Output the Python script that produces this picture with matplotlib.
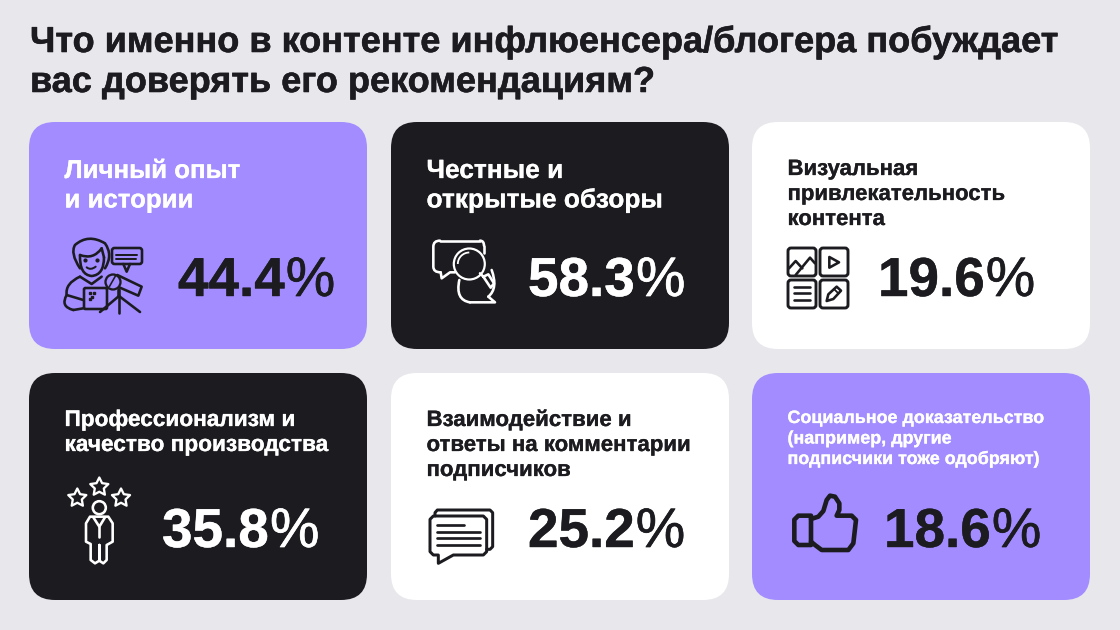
import numpy as np
import matplotlib
matplotlib.use("Agg")
import matplotlib.pyplot as plt
import matplotlib.patheffects as pe
from matplotlib.patches import FancyBboxPatch, Circle, Arc, Polygon
from matplotlib.path import Path
from matplotlib.patches import PathPatch

# данные
title_lines = ["Что именно в контенте инфлюенсера/блогера побуждает",
               "вас доверять его рекомендациям?"]
labels = [
    ["Личный опыт", "и истории"],
    ["Честные и", "открытые обзоры"],
    ["Визуальная", "привлекательность", "контента"],
    ["Профессионализм и", "качество производства"],
    ["Взаимодействие и", "ответы на комментарии", "подписчиков"],
    ["Социальное доказательство", "(например, другие", "подписчики тоже одобряют)"],
]
values = [44.4, 58.3, 19.6, 35.8, 25.2, 18.6]

BG = "#E8E7EC"
PURPLE = "#A28CFF"
DARK = "#1C1B20"
WHITE = "#FFFFFF"

FONT = "Liberation Sans"

# x, y, фон, цвет текста, размер подписи, первая базовая линия, шаг, x числа, база числа
cards = [
    (29, 122, PURPLE, WHITE, 18.6, 178, 29.5, 178, 296),
    (391, 122, DARK, WHITE, 18.95, 178, 29.5, 528, 296),
    (752, 122, WHITE, DARK, 15.95, 175, 25, 878, 296),
    (29, 373, DARK, WHITE, 16.3, 426, 25, 162, 547),
    (391, 373, WHITE, DARK, 16.0, 426, 25, 528, 547),
    (752, 373, PURPLE, WHITE, 12.9, 423, 20.5, 884, 547),
]
CARD_W, CARD_H, RAD = 338, 227, 26

fig = plt.figure(figsize=(11.2, 6.3), dpi=100, facecolor=BG)
ax = fig.add_axes([0, 0, 1, 1])
ax.set_xlim(0, 1120)
ax.set_ylim(630, 0)
ax.axis("off")


def put_text(x, y, s, size, color, stroke=0.2, weight="normal"):
    t = ax.text(x, y, s, fontsize=size, color=color, family=FONT, weight=weight,
                ha="left", va="baseline")
    t.set_path_effects([pe.withStroke(linewidth=stroke, foreground=color)])
    return t


def z(pts, x0, y0):
    return [(x0 + p[0] / 3, y0 + p[1] / 3) for p in pts]


def line(pts, color, lw=2.6, closed=False, fill="none"):
    if closed:
        ax.add_patch(Polygon(pts, closed=True, fc=fill, ec=color, lw=lw * 0.72, joinstyle="round"))
    else:
        xs, ys = zip(*pts)
        ax.plot(xs, ys, color=color, lw=lw * 0.72, solid_capstyle="round", solid_joinstyle="round")


def rbox(x1, y1, x2, y2, r, color, lw=2.6, fill="none"):
    ax.add_patch(FancyBboxPatch((x1 + r, y1 + r), x2 - x1 - 2 * r, y2 - y1 - 2 * r,
                                boxstyle=f"round,pad={r},rounding_size={r}",
                                fc=fill, ec=color, lw=lw * 0.72))


def circle(x, y, r, color, lw=2.6, fill="none"):
    ax.add_patch(Circle((x, y), r, fc=fill, ec=color, lw=lw * 0.72))


def star(cx, cy, r, color, lw=2.3):
    ang = np.deg2rad(np.arange(0, 360, 36) - 90)
    rr = np.where(np.arange(10) % 2 == 0, r, r * 0.5)
    line(list(zip(cx + rr * np.cos(ang), cy + rr * np.sin(ang))), color, lw, closed=True)


def curve(pts, color, lw=2.6):
    # сглаженный контур через квадратичные сегменты
    verts = [pts[0]]
    codes = [Path.MOVETO]
    for i in range(1, len(pts) - 1, 2):
        verts += [pts[i], pts[i + 1]]
        codes += [Path.CURVE3, Path.CURVE3]
    ax.add_patch(PathPatch(Path(verts, codes), fc="none", ec=color, lw=lw * 0.72, capstyle="round"))


def icon_blogger(c):
    x0, y0 = 30, 120
    # волосы и лицо
    curve(z([(150, 445), (120, 400), (135, 375), (175, 340), (225, 370), (250, 405), (225, 445)], x0, y0), c)
    curve(z([(150, 405), (190, 420), (215, 385)], x0, y0), c)
    line(z([(215, 385), (222, 412)], x0, y0), c)
    curve(z([(150, 405), (148, 465), (185, 468), (222, 465), (222, 412)], x0, y0), c)
    curve(z([(170, 442), (182, 452), (197, 440)], x0, y0), c, 2)
    ax.plot([85, 96.5], [260, 260], ls="none", marker="o", ms=2, color=c)
    # пузырь
    rbox(112, 248, 142, 264, 2.5, c)
    line(z([(280, 432), (290, 455), (300, 432)], x0, y0), c)
    line(z([(258, 405), (320, 405)], x0, y0), c, 2)
    line(z([(258, 417), (318, 417)], x0, y0), c, 2)
    # тело и планшет
    curve(z([(150, 470), (105, 490), (110, 525), (90, 560), (130, 570)], x0, y0), c)
    line(z([(130, 570), (160, 565)], x0, y0), c)
    line(z([(110, 525), (160, 540)], x0, y0), c)
    line(z([(150, 470), (185, 492), (215, 470)], x0, y0), c)
    rbox(84, 288, 107, 309, 1.5, c, fill=PURPLE)
    ax.plot([90, 94, 92, 90], [293, 293, 297, 299], ls="none", marker="s", ms=2, color=c)
    # штатив и микрофон
    line(z([(262, 465), (335, 500), (325, 527), (256, 497)], x0, y0), c, closed=True, fill=PURPLE)
    circle(113, 282, 7.5, c, 2.3, fill=PURPLE)
    line(z([(258, 465), (238, 500)], x0, y0), c, 1.6)
    line([(119, 290), (119, 296)], c, 3.6)
    line([(119, 296), (100, 312)], c)
    line([(119, 296), (119, 313)], c)
    line([(119, 296), (140, 312)], c)


def icon_search(c):
    x0, y0 = 420, 225
    curve(z([(62, 142), (40, 142), (40, 125), (40, 85), (40, 65), (40, 47), (60, 47)], x0, y0), c)
    line(z([(60, 47), (180, 47)], x0, y0), c)
    curve(z([(180, 47), (192, 47), (192, 62)], x0, y0), c)
    line(z([(192, 62), (192, 85)], x0, y0), c)
    line(z([(62, 142), (65, 160), (90, 142), (105, 142)], x0, y0), c)
    circle(469.3, 264, 15.5, c, 2.2, fill=DARK)
    ax.add_patch(Arc((469.3, 264), 23, 23, theta1=180, theta2=270, ec=c, lw=1.3))
    line(z([(180, 145), (190, 155)], x0, y0), c)
    line(z([(190, 155), (205, 148), (222, 175), (212, 188), (190, 155)], x0, y0), c)
    curve(z([(118, 165), (105, 225), (150, 232)], x0, y0), c)
    line(z([(150, 232), (225, 232), (205, 215)], x0, y0), c)
    curve(z([(205, 215), (235, 190), (215, 135)], x0, y0), c)


def icon_grid(c):
    x0, y0 = 775, 235
    rbox(788, 248, 816, 276, 3, c, 2.9)
    rbox(820, 248, 848, 276, 3, c, 2.9)
    rbox(788, 280, 816, 308, 3, c, 2.9)
    rbox(820, 280, 848, 308, 3, c, 2.9)
    line(z([(42, 100), (62, 78), (82, 100)], x0, y0), c)
    line(z([(62, 120), (105, 68), (120, 85)], x0, y0), c)
    line(z([(163, 66), (192, 82), (163, 98)], x0, y0), c, closed=True)
    for yy in (155, 175, 195):
        line(z([(58, yy), (104, yy)], x0, y0), c)
    line(z([(155, 198), (160, 178), (185, 155), (198, 167), (175, 192)], x0, y0), c, closed=True)
    line(z([(177, 162), (190, 175)], x0, y0), c, 1.8)


def icon_pro(c):
    x0, y0 = 55, 470
    star(99.3, 487, 9.5, c)
    star(77.3, 498, 9.5, c)
    star(121, 498, 9.5, c)
    circle(99.3, 507.7, 6.5, c)
    line(z([(105, 140), (160, 140), (173, 160), (173, 215), (155, 225), (155, 270), (145, 280),
            (133, 272), (133, 225), (133, 272), (120, 280), (107, 270), (107, 222), (93, 215),
            (93, 160)], x0, y0), c, closed=True)
    line(z([(115, 142), (133, 170), (150, 142)], x0, y0), c)
    line(z([(133, 170), (133, 200)], x0, y0), c)


def icon_chat(c):
    x0, y0 = 420, 500
    line(z([(45, 48), (45, 38), (52, 30), (210, 30), (218, 38), (218, 140), (210, 148), (200, 148)], x0, y0), c, 3)
    line(z([(40, 48), (190, 48), (200, 58), (200, 155), (190, 165), (100, 165), (55, 190), (55, 165),
            (40, 165), (30, 155), (30, 58)], x0, y0), c, 3, closed=True)
    line(z([(52, 75), (133, 75)], x0, y0), c, 2.7)
    for yy in (95, 115, 135):
        line(z([(52, yy), (180, yy)], x0, y0), c, 2.7)


def icon_like(c):
    x0, y0 = 785, 495
    line(z([(40, 62), (78, 62), (78, 150), (40, 150), (28, 138), (28, 74)], x0, y0), c, 4.6, closed=True)
    line(z([(78, 72), (100, 65), (115, 48), (125, 15), (135, 2), (150, 5), (163, 25), (163, 45), (155, 62),
            (200, 62), (213, 75), (205, 145), (190, 165), (110, 165), (90, 150), (78, 140)], x0, y0), c, 4.6)


icons = [icon_blogger, icon_search, icon_grid, icon_pro, icon_chat, icon_like]

# заголовок
put_text(30, 52, title_lines[0], 26, DARK, stroke=0.4, weight="bold")
put_text(30, 92, title_lines[1], 26, DARK, stroke=0.4, weight="bold")

fig.canvas.draw()
rend = fig.canvas.get_renderer()

for i, (x, y, bg, fg, size, base, step, nx, ny) in enumerate(cards):
    rbox(x, y, x + CARD_W, y + CARD_H, RAD, bg, lw=0, fill=bg)
    for j, s in enumerate(labels[i]):
        put_text(x + 35.5, base + j * step, s, size, fg, weight="bold")
    num_color = DARK if bg != DARK else WHITE
    t = put_text(nx, ny, f"{values[i]}", 39.5, num_color, stroke=0.3, weight="bold")
    w = t.get_window_extent(rend).x1
    put_text(w + 1, ny, "%", 40, num_color, stroke=0.5)
    icons[i](num_color)

fig.savefig("out.png", dpi=100, facecolor=BG)
